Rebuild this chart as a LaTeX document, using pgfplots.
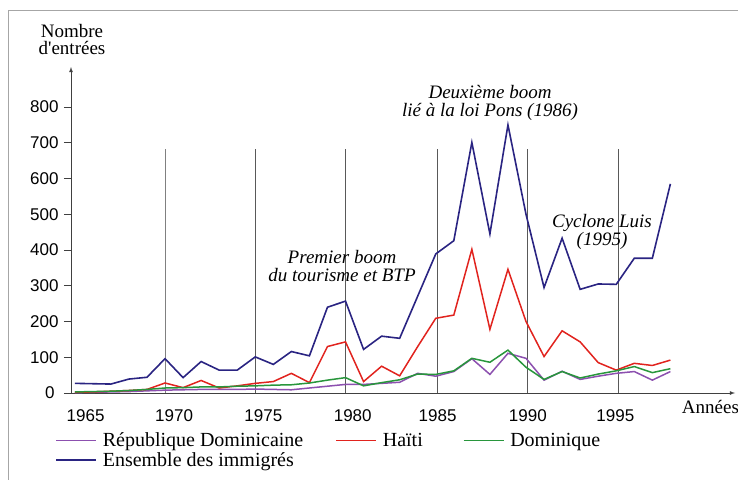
\documentclass[border=0pt]{standalone}
\usepackage{fontspec}
\setmainfont{Liberation Serif}
\setsansfont{Liberation Sans}
\usepackage{pgfplots}
\usepackage{pgfplotstable}
\pgfplotsset{compat=1.18}
\definecolor{cblue}{RGB}{42,36,130}
\definecolor{cred}{RGB}{225,35,30}
\definecolor{cgreen}{RGB}{40,150,60}
\definecolor{cpurple}{RGB}{140,80,175}
\pgfplotstableread{
year tot hai dom rdom
1965 27 2 3 1
1966 26 3 4 2
1967 25 5 5 3
1968 39 7 7 4
1969 44 10 10 6
1970 96 28 14 8
1971 43 15 15 9
1972 88 35 17 10
1973 64 14 17 10
1974 64 20 19 10
1975 101 27 20 11
1976 80 32 22 10
1977 116 55 23 9
1978 104 29 28 14
1979 240 130 36 19
1980 257 143 43 24
1981 122 32 20 24
1982 159 75 29 27
1983 153 48 37 30
1984 271 130 53 55
1985 389 209 52 47
1986 426 218 62 60
1987 701 402 97 96
1988 445 178 86 52
1989 750 346 120 111
1990 500 200 72 97
1991 295 102 38 36
1992 433 174 60 61
1993 290 143 42 38
1994 305 85 53 47
1995 304 64 62 55
1996 377 83 74 60
1997 377 77 57 36
1998 585 92 68 60
}\datatable
\begin{document}
\begin{tikzpicture}
\path[use as bounding box] (-71pt,-86pt) rectangle (667pt,393pt);
\draw[gray!70, line width=0.8pt] (-63pt,-95pt) -- (-63pt,382.3pt) -- (675pt,382.3pt);
\begin{axis}[
  scale only axis, width=664pt, height=326pt,
  xmin=1964.79, xmax=2001.58, ymin=0, ymax=912,
  axis x line=bottom, axis y line=left,
  axis line style={gray!50!black, line width=0.8pt, -latex},
  xtick={1965.6,1970.5,1975.45,1980.4,1985.1,1990.1,1994.95},
  xticklabels={1965,1970,1975,1980,1985,1990,1995},
  xtick style={draw=none},
  xticklabel style={font=\fontsize{17}{18}\selectfont\sffamily, yshift=-6pt},
  ytick={0,100,200,300,400,500,600,700,800},
  yticklabels={0\hspace*{4pt},100,200,300,400,500,600,700,800},
  yticklabel style={font=\fontsize{17}{18}\selectfont\sffamily, xshift=-2pt},
  ytick style={gray!50!black, line width=0.8pt},
  tick align=outside, major tick length=7pt,
  legend columns=3, legend cell align=left,
  legend style={at={(-0.0241,-0.115)}, anchor=north west, draw=none, fill=none,
    font=\fontsize{20}{22}\selectfont, inner sep=0pt, row sep=0pt,
    /tikz/every even column/.append style={column sep=26pt}},
  legend image code/.code={\draw[#1] (0pt,0pt) -- (40pt,0pt);},
]
\draw[gray, line width=0.8pt] (axis cs:1970,0) -- (axis cs:1970,682);
\draw[gray!70!black, line width=0.8pt] (axis cs:1975,0) -- (axis cs:1975,682);
\draw[gray!70!black, line width=0.8pt] (axis cs:1980,0) -- (axis cs:1980,682);
\draw[gray!70!black, line width=0.8pt] (axis cs:1985.1,0) -- (axis cs:1985.1,682);
\draw[gray!70!black, line width=0.8pt] (axis cs:1990.1,0) -- (axis cs:1990.1,682);
\draw[gray!70!black, line width=0.8pt] (axis cs:1995.1,0) -- (axis cs:1995.1,682);
\addplot[color=cpurple, line width=1.5pt] table[x=year, y=rdom]{\datatable};
\addlegendentry{\hspace*{4pt}République Dominicaine\hspace*{4pt}}
\addplot[color=cred, line width=1.5pt] table[x=year, y=hai]{\datatable};
\addlegendentry{\hspace*{4pt}Haïti\hspace*{12pt}}
\addplot[color=cgreen, line width=1.5pt] table[x=year, y=dom]{\datatable};
\addlegendentry{\hspace*{4pt}Dominique}
\addplot[color=cblue, line width=1.6pt] table[x=year, y=tot]{\datatable};
\addlegendentry{\hspace*{4pt}Ensemble des immigrés}
\end{axis}
\node[align=center, font=\fontsize{19}{17.5}\selectfont] at (1pt,353.5pt) {Nombre\\d\textquotesingle entrées};
\node[anchor=west, font=\fontsize{19}{21}\selectfont, inner sep=0pt] at (610.7pt,-13.7pt) {Années};
\node[align=center, font=\fontsize{19}{17.5}\selectfont\itshape] at (271pt,127pt) {Premier boom\\du tourisme et BTP};
\node[align=center, font=\fontsize{19}{17.4}\selectfont\itshape] at (419pt,290pt) {Deuxième boom\\lié à la loi Pons (1986)};
\node[align=center, font=\fontsize{19}{17.4}\selectfont\itshape] at (531pt,161pt) {Cyclone Luis\\(1995)};
\end{tikzpicture}
\end{document}
